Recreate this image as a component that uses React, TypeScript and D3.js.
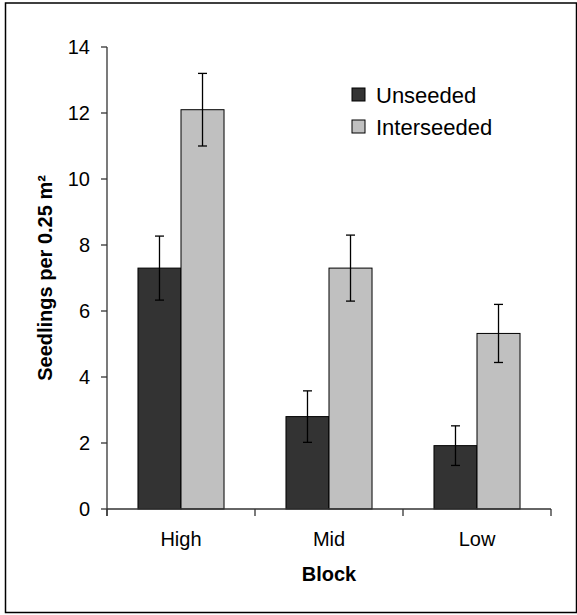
import React from 'react';
import * as d3 from 'd3';

const blocks = ['High', 'Mid', 'Low'];
const seriesNames = ['Unseeded', 'Interseeded'];
const unseeded = [7.3, 2.8, 1.92];
const interseeded = [12.1, 7.3, 5.32];
const unseededErr = [0.97, 0.78, 0.6];
const interseededErr = [1.1, 1.0, 0.88];
const yTicks = [0, 2, 4, 6, 8, 10, 12, 14];
const colors = ['#333333', '#c0c0c0'];

const width = 577;
const height = 615;
const font = 'Arial, "Liberation Sans", sans-serif';

const App = () => {
    const x = d3.scaleBand<string>().domain(blocks).range([107, 551]).padding(0);
    const x1 = d3
        .scaleBand<string>()
        .domain(seriesNames)
        .range([0, x.bandwidth()])
        .paddingInner(0)
        .paddingOuter(0.72);
    const y = d3.scaleLinear().domain([0, 14]).range([509, 47]);

    const series = [
        { name: seriesNames[0], values: unseeded, errs: unseededErr },
        { name: seriesNames[1], values: interseeded, errs: interseededErr },
    ];

    const boundaries = blocks.map((b) => x(b)!).concat([x.range()[1]]);

    return (
        <div style={{ position: 'absolute', left: 0, top: 0 }}>
            <svg width={width} height={height} style={{ display: 'block', fontFamily: font }}>
                <rect x={0} y={0} width={width} height={height} fill="#fff" />
                {/* outer frame */}
                <rect x={5.5} y={3} width={571} height={609.5} fill="none" stroke="#000" strokeWidth={1.5} />

                {/* bars */}
                {series.map((s, si) =>
                    s.values.map((v, i) => (
                        <rect
                            key={s.name + i}
                            x={x(blocks[i])! + x1(s.name)!}
                            y={y(v)}
                            width={x1.bandwidth()}
                            height={y(0) - y(v)}
                            fill={colors[si]}
                            stroke="#000"
                            strokeWidth={1}
                        />
                    ))
                )}

                {/* error bars */}
                {series.map((s) =>
                    s.values.map((v, i) => {
                        const cx = x(blocks[i])! + x1(s.name)! + x1.bandwidth() / 2;
                        const top = y(v + s.errs[i]);
                        const bot = y(v - s.errs[i]);
                        return (
                            <g key={'e' + s.name + i} stroke="#000" strokeWidth={1.3}>
                                <line x1={cx} x2={cx} y1={top} y2={bot} />
                                <line x1={cx - 4.5} x2={cx + 4.5} y1={top} y2={top} />
                                <line x1={cx - 4.5} x2={cx + 4.5} y1={bot} y2={bot} />
                            </g>
                        );
                    })
                )}

                {/* y axis */}
                <line x1={107} x2={107} y1={y(14)} y2={y(0) + 7} stroke="#333" strokeWidth={1.3} />
                {yTicks.map((t) => (
                    <g key={'yt' + t}>
                        <line x1={101} x2={107} y1={y(t)} y2={y(t)} stroke="#333" strokeWidth={1.3} />
                        <text x={90} y={y(t)} dy="0.36em" textAnchor="end" fontSize={20} fill="#000">
                            {t}
                        </text>
                    </g>
                ))}

                {/* x axis */}
                <line x1={107} x2={x.range()[1]} y1={y(0)} y2={y(0)} stroke="#333" strokeWidth={1.3} />
                {boundaries.map((b, i) => (
                    <line key={'xt' + i} x1={b} x2={b} y1={y(0)} y2={y(0) + 7} stroke="#333" strokeWidth={1.3} />
                ))}
                {blocks.map((b) => (
                    <text key={b} x={x(b)! + x.bandwidth() / 2} y={546} textAnchor="middle" fontSize={20} fill="#000">
                        {b}
                    </text>
                ))}

                {/* axis titles */}
                <text x={329} y={581} textAnchor="middle" fontSize={20} fontWeight="bold" fill="#000">
                    Block
                </text>
                <text
                    transform={`translate(52,${(y(0) + y(14)) / 2}) rotate(-90)`}
                    textAnchor="middle"
                    fontSize={20}
                    fontWeight="bold"
                    fill="#000"
                >
                    Seedlings per 0.25 m²
                </text>

                {/* legend */}
                {seriesNames.map((n, i) => (
                    <g key={'lg' + n} transform={`translate(352,${88 + i * 32})`}>
                        <rect x={0} y={0} width={13} height={13} fill={colors[i]} stroke="#000" strokeWidth={1} />
                        <text x={24} y={15} fontSize={22} fill="#000">
                            {n}
                        </text>
                    </g>
                ))}
            </svg>
        </div>
    );
};

export default App;
